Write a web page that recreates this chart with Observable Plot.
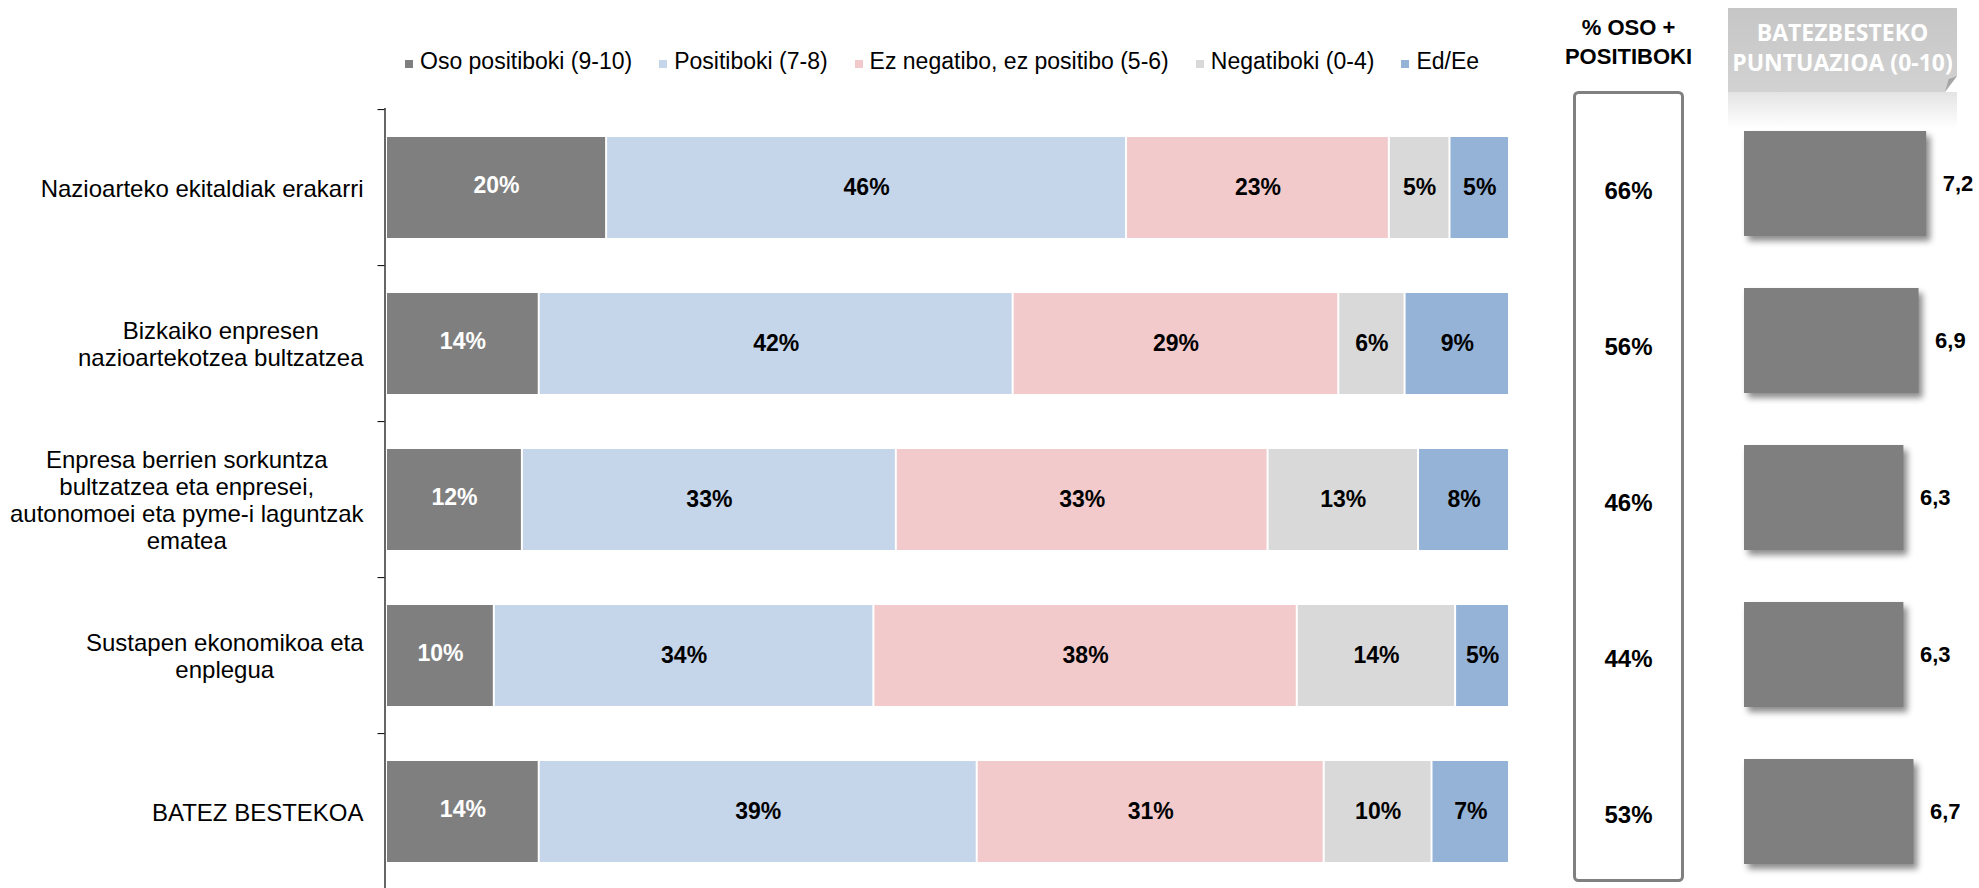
<!DOCTYPE html>
<html>
<head>
<meta charset="utf-8">
<script src="https://cdn.jsdelivr.net/npm/d3@7"></script>
<script src="https://cdn.jsdelivr.net/npm/@observablehq/plot@0.6"></script>
<style>
  html, body { margin: 0; padding: 0; background: #fff; overflow: hidden; }
  #root { position: relative; width: 1979px; height: 888px; font-family: "Liberation Sans", Arial, sans-serif; }
  .abs { position: absolute; }
  #legend { position: absolute; left: 405px; top: 48px; display: flex; align-items: center; font-size: 23px; color: #000; white-space: nowrap; }
  #legend .item { display: flex; align-items: center; margin-right: 27px; }
  #legend .sw { width: 8px; height: 8px; margin-right: 7px; margin-top: 4px; }
  #score g[aria-label="bar"] { filter: drop-shadow(4px 5px 3px rgba(0,0,0,0.45)); }
  #scorehead { position: absolute; left: 1728px; top: 8px; width: 229px; height: 84px;
    background: linear-gradient(#c6c6c6, #d2d2d2);
    clip-path: polygon(0 0, 100% 0, 100% calc(100% - 16px), calc(100% - 12px) 100%, 0 100%);
    color: #fff; font-family: "Open Sans", sans-serif; font-weight: bold; font-size: 23px; line-height: 30px; text-align: center;
    box-sizing: border-box; padding-top: 9px; white-space: nowrap; }
  #fold { position: absolute; left: 1945px; top: 76px; width: 12px; height: 16px;
    background: linear-gradient(135deg, #9a9a9a, #b8b8b8); clip-path: polygon(100% 0, 0 100%, 30% 20%); }
  #reflect { position: absolute; left: 1728px; top: 92px; width: 229px; height: 36px;
    background: linear-gradient(rgba(205,205,205,0.55), rgba(255,255,255,0)); }
</style>
</head>
<body>
<div id="root"></div>
<script>
// ---- data ----
const categories = [
  "Nazioarteko ekitaldiak erakarri",
  "Bizkaiko enpresen\nnazioartekotzea bultzatzea",
  "Enpresa berrien sorkuntza\nbultzatzea eta enpresei,\nautonomoei eta pyme-i laguntzak\nematea",
  "Sustapen ekonomikoa eta\nenplegua",
  "BATEZ BESTEKOA"
];
const series = ["Oso positiboki (9-10)", "Positiboki (7-8)", "Ez negatibo, ez positibo (5-6)", "Negatiboki (0-4)", "Ed/Ee"];
const colors = ["#7f7f7f", "#c5d5ea", "#f2cacb", "#d9d9d9", "#95b3d7"];
// shares (%) per category; labels show them rounded
const osoPositiboki = [19.6, 13.6, 12.1, 9.6, 13.6];
const positiboki    = [46.3, 42.2, 33.3, 33.8, 39.0];
const ezNegatibo    = [23.4, 29.0, 33.1, 37.7, 30.9];
const negatiboki    = [5.4, 5.9, 13.4, 14.1, 9.6];
const edEe          = [5.3, 9.3, 8.1, 4.8, 6.9];
const osoPlusPositiboki = [66, 56, 46, 44, 53];
const batezbesteko = [7.2, 6.9, 6.3, 6.3, 6.7];
const boxHeader = "% OSO +\nPOSITIBOKI";
const scoreHeader = ["BATEZBESTEKO", "PUNTUAZIOA (0-10)"];

const seriesValues = [osoPositiboki, positiboki, ezNegatibo, negatiboki, edEe];
const rows = [];
categories.forEach((c, i) => series.forEach((s, j) => rows.push({category: c, series: s, value: seriesValues[j][i]})));
const pct = d => Math.round(d.value) + "%";

const font = "Liberation Sans, Arial, sans-serif";
const root = document.getElementById("root");

// measure label widths for centered multi-line labels right-aligned as a block
const ctx = document.createElement("canvas").getContext("2d");
ctx.font = "24px 'Liberation Sans', Arial, sans-serif";
const blockW = categories.map(c => Math.max(...c.split("\n").map(l => ctx.measureText(l).width)));

const mainW = 1530, mL = 386, mR = 21;
const yRange = [108, 892];
const step = (yRange[1] - yRange[0]) / categories.length;
const tickLen = 7 / (mainW - mL - mR);

const mainPlot = Plot.plot({
  width: mainW, height: 888,
  marginLeft: mL, marginRight: mR, marginTop: 108, marginBottom: 0,
  style: {fontFamily: font, background: "transparent", overflow: "visible"},
  x: {domain: [0, 1], axis: null},
  y: {domain: categories, range: yRange, paddingInner: 0.35, paddingOuter: 0.175, axis: null},
  color: {domain: series, range: colors},
  marks: [
    Plot.barX(rows, Plot.stackX({x: "value", y: "category", fill: "series", z: "series", order: series, offset: "normalize", insetLeft: 1, insetRight: 1})),
    Plot.text(rows, Plot.stackX({x: "value", y: "category", z: "series", order: series, offset: "normalize",
      text: d => d.series === series[0] ? "" : pct(d), fill: "black", fontWeight: "bold", fontSize: 23})),
    Plot.text(rows, Plot.stackX({x: "value", y: "category", z: "series", order: series, offset: "normalize",
      text: d => d.series === series[0] ? pct(d) : "", fill: "white", fontWeight: "bold", fontSize: 23, dy: -2})),
    Plot.ruleX([0], {dx: -1.5, stroke: "black", strokeWidth: 1.2}),
    Plot.ruleY(categories, {y: d => d, dy: -step / 2, x1: -tickLen, x2: 0, dx: -1.5, stroke: "black", strokeWidth: 1}),
    ...categories.map((c, i) => Plot.text([c], {
      y: d => d, text: d => d, frameAnchor: "left", textAnchor: "middle",
      dx: -(23 + blockW[i] / 2), fontSize: 24, lineHeight: 1.13, fill: "black"
    }))
  ]
});
mainPlot.classList.add("abs");
mainPlot.style.left = "0px"; mainPlot.style.top = "0px";
root.appendChild(mainPlot);

// legend from the plot's color scale
const cs = mainPlot.scale("color");
const legend = document.createElement("div");
legend.id = "legend";
cs.domain.forEach((d, i) => {
  const it = document.createElement("div"); it.className = "item";
  const sw = document.createElement("span"); sw.className = "sw"; sw.style.background = cs.range[i];
  const tx = document.createElement("span"); tx.textContent = d;
  it.appendChild(sw); it.appendChild(tx); legend.appendChild(it);
});
root.appendChild(legend);

// % OSO + POSITIBOKI box
const boxPlot = Plot.plot({
  width: 140, height: 888,
  marginLeft: 14, marginRight: 18, marginTop: 92, marginBottom: 8,
  style: {fontFamily: font, background: "transparent", overflow: "visible"},
  x: {domain: [0, 1], axis: null},
  y: {domain: categories, range: yRange, paddingInner: 0.35, paddingOuter: 0.175, axis: null},
  marks: [
    Plot.frame({stroke: "#808080", strokeWidth: 3, rx: 4}),
    Plot.text(osoPlusPositiboki, {y: (d, i) => categories[i], text: d => d + "%", frameAnchor: "middle", dy: 3, fontSize: 24, fontWeight: "bold", fill: "black"}),
    Plot.text([boxHeader], {text: d => d, frameAnchor: "top", lineAnchor: "middle", dy: -52, fontSize: 22, fontWeight: "bold", lineHeight: 1.3, fill: "black"})
  ]
});
boxPlot.classList.add("abs");
boxPlot.style.left = "1560px"; boxPlot.style.top = "0px";
root.appendChild(boxPlot);

// score header decoration
const head = document.createElement("div"); head.id = "scorehead";
head.innerHTML = scoreHeader.join("<br>");
root.appendChild(head);
const fold = document.createElement("div"); fold.id = "fold"; root.appendChild(fold);
const refl = document.createElement("div"); refl.id = "reflect"; root.appendChild(refl);

// BATEZBESTEKO PUNTUAZIOA bars
const scorePlot = Plot.plot({
  width: 279, height: 888,
  marginLeft: 44, marginRight: 7.3, marginTop: 104, marginBottom: 0,
  style: {fontFamily: font, background: "transparent", overflow: "visible"},
  x: {domain: [0, 9], axis: null},
  y: {domain: categories, range: [104, 891], paddingInner: 1 / 3, paddingOuter: 1 / 6, axis: null},
  marks: [
    Plot.barX(batezbesteko, {x: d => d, y: (d, i) => categories[i], fill: "#7f7f7f"}),
    Plot.text(batezbesteko, {x: d => d, y: (d, i) => categories[i], text: d => d.toFixed(1).replace(".", ","),
      textAnchor: "start", dx: 16, fontSize: 22, fontWeight: "bold", fill: "black"})
  ]
});
scorePlot.id = "score";
scorePlot.classList.add("abs");
scorePlot.style.left = "1700px"; scorePlot.style.top = "0px";
root.appendChild(scorePlot);
</script>
</body>
</html>
